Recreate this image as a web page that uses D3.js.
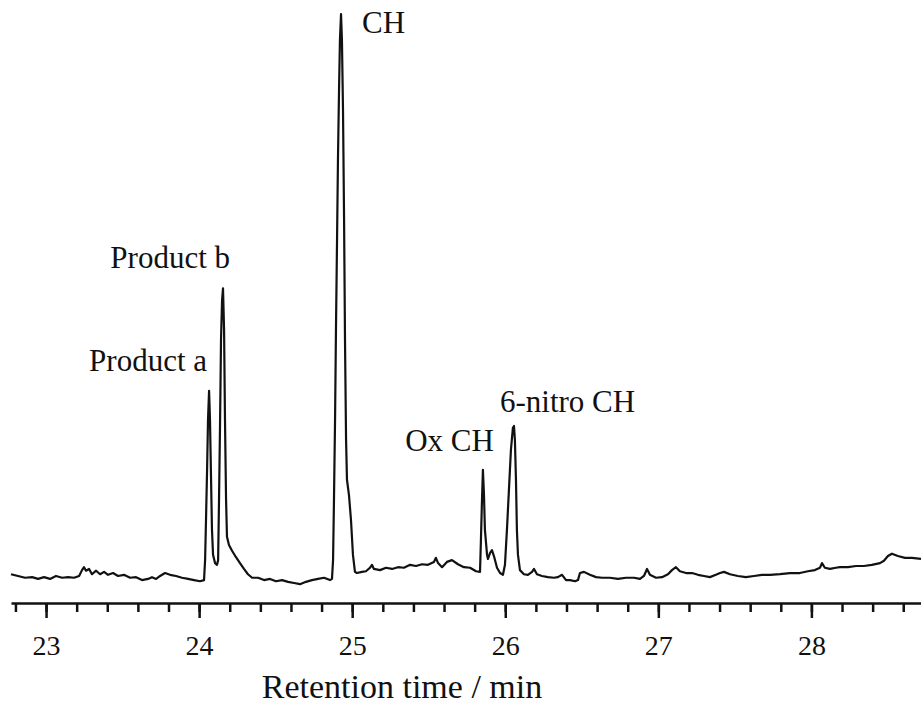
<!DOCTYPE html>
<html>
<head>
<meta charset="utf-8">
<script src="https://cdn.jsdelivr.net/npm/d3@7"></script>
<style>
  body { margin: 0; background: #fff; }
  svg text { font-family: "Liberation Serif", "Times New Roman", serif; fill: #111; }
</style>
</head>
<body>
<div class="chart"></div>
<script>
var svgWidth = 921;
var svgHeight = 722;

// retention time (min) and detector signal (% of CH peak)
var times = [
  22.771, 22.817, 22.863, 22.909, 22.948, 22.987, 23.026, 23.065, 23.105, 23.144,
  23.183, 23.216, 23.235, 23.248, 23.261, 23.281, 23.300, 23.327, 23.353, 23.379,
  23.405, 23.438, 23.470, 23.509, 23.549, 23.588, 23.627, 23.666, 23.692, 23.719,
  23.745, 23.777, 23.810, 23.849, 23.888, 23.928, 23.967, 24.006, 24.032,
  24.039, 24.045, 24.052, 24.058, 24.065, 24.071, 24.078, 24.084, 24.091, 24.104,
  24.117, 24.124, 24.130, 24.137, 24.143, 24.150, 24.156, 24.163, 24.169, 24.176,
  24.182, 24.195, 24.215, 24.241, 24.267, 24.293, 24.319, 24.346, 24.385, 24.424,
  24.463, 24.502, 24.542, 24.581, 24.620, 24.659, 24.698, 24.737, 24.777, 24.816,
  24.855, 24.868,
  24.875, 24.881, 24.888, 24.894, 24.901, 24.907, 24.914, 24.920, 24.927, 24.933,
  24.940, 24.947, 24.953, 24.960, 24.966, 24.979, 24.992, 25.005, 25.018, 25.031,
  25.064, 25.090, 25.116, 25.129, 25.142, 25.182, 25.221, 25.260, 25.299, 25.338,
  25.378, 25.417, 25.456, 25.495, 25.534, 25.547, 25.561, 25.587, 25.619, 25.652,
  25.691, 25.730, 25.770, 25.809, 25.835,
  25.841, 25.848, 25.854, 25.861, 25.867, 25.881, 25.887, 25.900, 25.913, 25.926,
  25.946, 25.966, 25.985, 25.998, 26.011, 26.024, 26.037, 26.050, 26.057, 26.063,
  26.070, 26.076, 26.083, 26.096, 26.122, 26.148, 26.175, 26.188, 26.207, 26.240,
  26.279, 26.318, 26.344, 26.371, 26.397, 26.423, 26.456, 26.475, 26.488, 26.514,
  26.553, 26.593, 26.632, 26.684, 26.736, 26.789, 26.841, 26.880, 26.906, 26.926,
  26.945, 26.985, 27.024, 27.063, 27.089, 27.115, 27.141, 27.181, 27.220, 27.259,
  27.298, 27.337, 27.376, 27.403, 27.429, 27.468, 27.520, 27.572, 27.625, 27.677,
  27.729, 27.795, 27.860, 27.925, 27.977, 28.023, 28.056, 28.069, 28.088, 28.121,
  28.160, 28.186, 28.239, 28.291, 28.343, 28.395, 28.448, 28.474, 28.500, 28.526,
  28.565, 28.611, 28.657, 28.716
];

var signal = [
  4.4, 4.1, 3.8, 3.9, 3.6, 3.9, 3.6, 4.1, 3.8, 3.9,
  3.8, 4.1, 5.1, 5.6, 5.0, 5.3, 4.4, 5.0, 4.4, 4.8,
  4.3, 4.6, 4.1, 4.3, 3.8, 3.9, 3.4, 3.6, 3.9, 3.6,
  4.1, 4.6, 4.3, 4.1, 3.8, 3.6, 3.4, 3.2, 3.4,
  6.8, 13.7, 22.2, 30.7, 35.7, 30.7, 20.5, 12.0, 7.7, 6.3,
  6.0, 6.8, 17.1, 30.7, 44.4, 51.2, 53.2, 46.1, 30.7, 17.1,
  10.8, 9.4, 8.4, 7.3, 6.3, 5.3, 4.4, 3.8, 3.8, 3.4,
  3.6, 3.2, 3.4, 3.1, 2.9, 2.7, 3.1, 3.4, 3.6, 3.8,
  3.4, 3.6,
  6.8, 17.1, 30.7, 46.1, 61.4, 75.1, 87.0, 95.6, 100, 95.6,
  83.6, 64.9, 44.4, 27.3, 20.5, 17.9, 13.7, 7.7, 4.8, 4.6,
  4.8, 4.9, 5.5, 6.0, 5.3, 5.1, 5.5, 5.3, 5.6, 5.5,
  6.0, 5.8, 6.1, 6.0, 6.5, 7.2, 6.3, 5.6, 6.5, 6.8,
  6.1, 5.6, 5.5, 4.9, 4.8,
  10.2, 17.1, 22.2, 17.9, 12.0, 7.7, 7.0, 8.0, 8.5, 7.5,
  5.5, 4.6, 4.3, 6.0, 12.0, 18.8, 25.6, 29.4, 29.7, 27.3,
  20.5, 12.0, 7.7, 5.1, 4.4, 4.3, 4.8, 5.3, 4.4, 4.1,
  3.9, 3.8, 3.9, 4.3, 3.4, 3.4, 3.2, 3.4, 4.6, 4.8,
  4.3, 3.9, 3.8, 3.8, 3.6, 3.8, 3.8, 3.6, 4.1, 5.3,
  4.3, 3.8, 3.9, 4.4, 5.1, 5.6, 4.9, 4.6, 4.6, 4.3,
  4.1, 3.9, 4.3, 4.6, 4.8, 4.4, 4.1, 3.9, 4.1, 4.3,
  4.3, 4.4, 4.6, 4.6, 4.9, 5.1, 5.5, 6.3, 5.5, 5.3,
  5.5, 5.6, 5.6, 5.8, 5.8, 6.0, 6.3, 6.7, 7.5, 7.9,
  7.5, 7.2, 7.2, 7.0
];

var peakNames = ["Product a", "Product b", "CH", "Ox CH", "6-nitro CH"];
var peakTimes = [24.065, 24.156, 24.927, 25.854, 26.057];
var peakHeights = [35.7, 53.2, 100, 22.2, 29.7];

var majorTicks = [23, 24, 25, 26, 27, 28];
var minorTicks = d3.range(22.8, 28.7, 0.2);
var xTitle = "Retention time / min";

var serif = "'Liberation Serif', 'Times New Roman', serif";

var svg = d3.select(".chart")
  .append("svg")
  .attr("width", svgWidth)
  .attr("height", svgHeight);

var xScale = d3.scaleLinear()
  .domain([22.771, 28.716])
  .range([11, 921]);

var yScale = d3.scaleLinear()
  .domain([0, 100])
  .range([600, 14]);

var axisY = 603;

// minor ticks (every 0.2 min)
svg.append("g")
  .attr("transform", `translate(0, ${axisY})`)
  .call(d3.axisBottom(xScale).tickValues(minorTicks).tickSize(9).tickSizeOuter(0).tickFormat(""))
  .call(g => g.selectAll("line").attr("stroke", "#111").attr("stroke-width", 2.5))
  .call(g => g.select(".domain").attr("stroke", "#111").attr("stroke-width", 2.5));

// major ticks + labels
svg.append("g")
  .attr("transform", `translate(0, ${axisY})`)
  .attr("font-family", null)
  .call(d3.axisBottom(xScale).tickValues(majorTicks).tickSize(15).tickPadding(17).tickFormat(d3.format("d")))
  .call(g => g.select(".domain").remove())
  .call(g => g.selectAll("line").attr("stroke", "#111").attr("stroke-width", 2.5))
  .call(g => g.selectAll("text")
    .style("font-family", serif)
    .style("font-size", "28px")
    .style("fill", "#111"));

// chromatogram trace
var line = d3.line()
  .x((d, i) => xScale(times[i]))
  .y(d => yScale(d));

svg.append("path")
  .datum(signal)
  .attr("d", line)
  .attr("fill", "none")
  .attr("stroke", "#111")
  .attr("stroke-width", 2.2)
  .attr("stroke-linejoin", "round");

// peak labels
var labelOffsets = [
  { dx: -2, dy: -20, anchor: "end" },
  { dx: 7, dy: -20, anchor: "end" },
  { dx: 21, dy: 19, anchor: "start" },
  { dx: 11, dy: -19, anchor: "end" },
  { dx: -14, dy: -14, anchor: "start" }
];

svg.selectAll(".peakLabel")
  .data(peakNames)
  .enter()
  .append("text")
  .attr("class", "peakLabel")
  .attr("x", (d, i) => xScale(peakTimes[i]) + labelOffsets[i].dx)
  .attr("y", (d, i) => yScale(peakHeights[i]) + labelOffsets[i].dy)
  .attr("text-anchor", (d, i) => labelOffsets[i].anchor)
  .style("font-size", "31px")
  .text(d => d);

// axis title
svg.append("text")
  .attr("x", 402)
  .attr("y", 698)
  .attr("text-anchor", "middle")
  .style("font-size", "34px")
  .text(xTitle);
</script>
</body>
</html>
